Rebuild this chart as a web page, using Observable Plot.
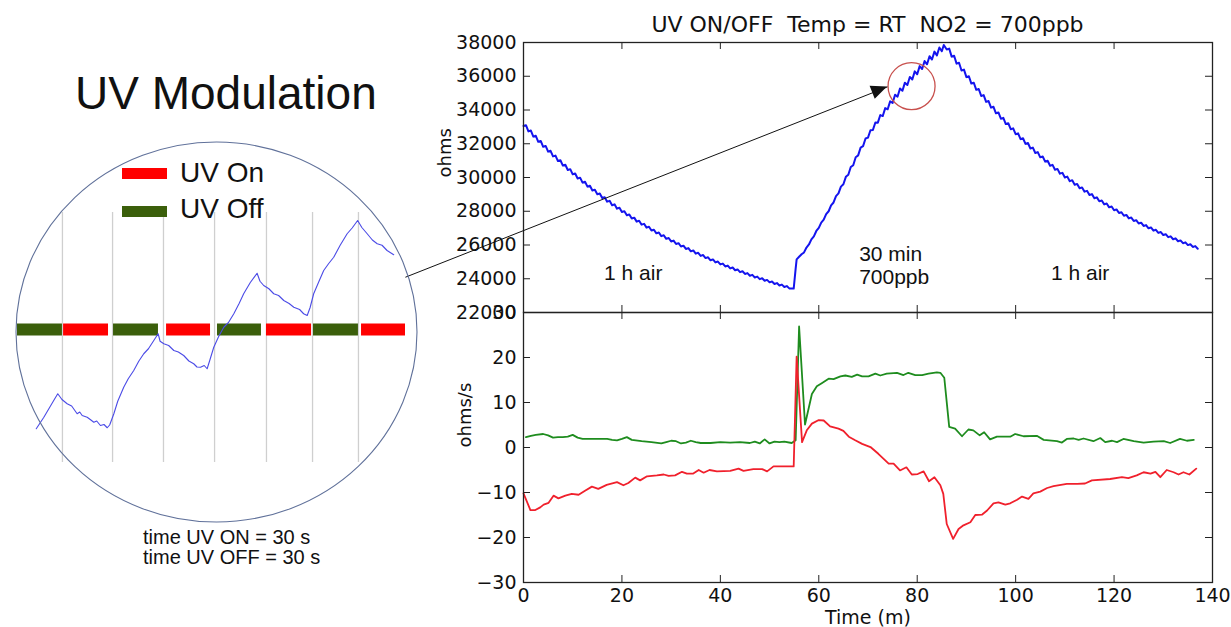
<!DOCTYPE html>
<html><head><meta charset="utf-8">
<script src="https://cdn.jsdelivr.net/npm/d3@7"></script>
<script src="https://cdn.jsdelivr.net/npm/@observablehq/plot@0.6"></script>
<style>
html,body{margin:0;padding:0;background:#fff;}
#fig{position:relative;width:1231px;height:627px;overflow:hidden;background:#fff;}
.t{position:absolute;white-space:pre;color:#111;font-family:'Liberation Sans',Arial,sans-serif;}
.sw{position:absolute;}
</style></head><body><div id="fig"></div>
<script>
// ---------- data ----------
const chartTitle = "UV ON/OFF  Temp = RT  NO2 = 700ppb";
const xTicks = [0, 20, 40, 60, 80, 100, 120, 140];
const topYTicks = [22000, 24000, 26000, 28000, 30000, 32000, 34000, 36000, 38000];
const bottomYTicks = [-30, -20, -10, 0, 10, 20, 30];

// resistance (ohms) vs time (min): first hour in air
const resistanceAir1 = [
[0,33050],[0.5,33100],[1,32731],[1.5,32781],[2,32420],[2.5,32470],[3,32116],[3.5,32166],[4,31820],[4.5,31870],
[5,31531],[5.5,31581],[6,31249],[6.5,31299],[7,30974],[7.5,31024],[8,30706],[8.5,30756],[9,30444],[9.5,30494],
[10,30189],[10.5,30239],[11,29940],[11.5,29990],[12,29697],[12.5,29747],[13,29460],[13.5,29510],[14,29229],[14.5,29279],
[15,29003],[15.5,29053],[16,28783],[16.5,28833],[17,28568],[17.5,28618],[18,28359],[18.5,28409],[19,28155],[19.5,28205],
[20,27955],[20.5,28005],[21,27761],[21.5,27811],[22,27571],[22.5,27621],[23,27386],[23.5,27436],[24,27205],[24.5,27255],
[25,27029],[25.5,27079],[26,26857],[26.5,26907],[27,26690],[27.5,26740],[28,26526],[28.5,26576],[29,26366],[29.5,26416],
[30,26211],[30.5,26261],[31,26059],[31.5,26109],[32,25911],[32.5,25961],[33,25766],[33.5,25816],[34,25625],[34.5,25675],
[35,25488],[35.5,25538],[36,25354],[36.5,25404],[37,25223],[37.5,25273],[38,25095],[38.5,25145],[39,24970],[39.5,25020],
[40,24849],[40.5,24899],[41,24730],[41.5,24780],[42,24615],[42.5,24665],[43,24502],[43.5,24552],[44,24392],[44.5,24442],
[45,24285],[45.5,24335],[46,24180],[46.5,24230],[47,24078],[47.5,24128],[48,23978],[48.5,24028],[49,23881],[49.5,23931],
[50,23786],[50.5,23836],[51,23693],[51.5,23743],[52,23603],[52.5,23653],[53,23515],[53.5,23565],[54,23429],[54.9,23420]
];
// 30 min of 700 ppb NO2
const resistanceNO2 = [
[55.3,24600],[55.5,25150],[56,25300],[56.5,25450],[57,25560],[57.5,25850],[58,26030],[58.5,26330],[59,26510],
[59.5,26830],[60,27010],[60.5,27330],[61,27500],[61.5,27830],[62,28000],[62.5,28350],[63,28520],[63.5,28900],
[64,29060],[64.5,29460],[65,29600],[65.5,30040],[66,30160],[66.5,30620],[67,30730],[67.5,31200],[68,31310],
[68.5,31770],[69,31860],[69.5,32310],[70,32360],[70.5,32800],[71,32820],[71.5,33260],[72,33250],[72.5,33700],
[73,33640],[73.5,34110],[74,34040],[74.5,34510],[75,34420],[75.5,34900],[76,34790],[76.5,35270],[77,35140],
[77.5,35620],[78,35480],[78.5,35960],[79,35810],[79.5,36290],[80,36120],[80.5,36600],[81,36430],[81.5,36900],
[82,36710],[82.5,37190],[83,36990],[83.5,37460],[84,37240],[84.5,37700],[85,37480],[85.4,37850]
];
// second hour in air
const resistanceAir2 = [
[86,37588],[86.5,37638],[87,37161],[87.5,37211],[88,36746],[88.5,36796],[89,36342],[89.5,36392],[90,35949],[90.5,35999],
[91,35567],[91.5,35617],[92,35195],[92.5,35245],[93,34833],[93.5,34883],[94,34481],[94.5,34531],[95,34139],[95.5,34189],
[96,33806],[96.5,33856],[97,33483],[97.5,33533],[98,33168],[98.5,33218],[99,32862],[99.5,32912],[100,32564],[100.5,32614],
[101,32275],[101.5,32325],[102,31993],[102.5,32043],[103,31719],[103.5,31769],[104,31453],[104.5,31503],[105,31194],[105.5,31244],
[106,30942],[106.5,30992],[107,30697],[107.5,30747],[108,30459],[108.5,30509],[109,30227],[109.5,30277],[110,30002],[110.5,30052],
[111,29783],[111.5,29833],[112,29570],[112.5,29620],[113,29362],[113.5,29412],[114,29160],[114.5,29210],[115,28964],[115.5,29014],
[116,28773],[116.5,28823],[117,28587],[117.5,28637],[118,28407],[118.5,28457],[119,28231],[119.5,28281],[120,28060],[120.5,28110],
[121,27894],[121.5,27944],[122,27733],[122.5,27783],[123,27576],[123.5,27626],[124,27423],[124.5,27473],[125,27274],[125.5,27324],
[126,27130],[126.5,27180],[127,26989],[127.5,27039],[128,26852],[128.5,26902],[129,26719],[129.5,26769],[130,26590],[130.5,26640],
[131,26464],[131.5,26514],[132,26342],[132.5,26392],[133,26223],[133.5,26273],[134,26107],[134.5,26157],[135,25995],[135.5,26045],
[136,25885],[136.5,25935],[137,25779]
];

// derivative (ohms/s), UV off phase (green)
const rateOff = [
[0.5,2.3],[1.5,2.6],[2.5,2.8],[4,3.0],[5,2.7],[6,2.2],[7,2.3],[8,2.3],[9,2.4],[10,2.8],[11,2.2],[12,1.9],
[14,1.9],[16,1.9],[17,1.9],[18,1.7],[19,1.6],[20,1.9],[21,2.3],[22,1.7],[24,1.4],[26,1.2],[28,0.9],[29,1.2],
[30,1.5],[31,1.4],[32,0.9],[33,1.1],[34,1.5],[35,1.2],[36,1.0],[38,1.0],[40,1.2],[42,1.1],[44,1.2],[46,1.0],
[47,1.3],[48,0.9],[49,1.8],[50,0.9],[51,1.3],[52,1.2],[53,1.3],[54.5,1.0],[55.3,1.6],[56.0,26.9],[57.2,5.1],
[58.6,11.9],[59.6,13.6],[60.6,14.3],[62.0,15.3],[63.0,15.2],[64.4,15.8],[65.4,16.0],[66.7,15.7],[67.8,16.2],
[68.8,15.8],[70.1,15.8],[71.5,16.4],[72.5,16.0],[73.8,16.4],[75.9,16.6],[77.2,16.1],[78.2,16.6],[79.6,16.1],
[81.0,16.1],[82.3,16.4],[84.0,16.7],[84.7,16.6],[85.5,15.5],[86.5,4.6],[87.7,4.2],[89.1,2.5],[90.4,4.0],
[91.4,3.8],[92.7,2.7],[93.6,3.4],[94.8,1.8],[96.2,2.4],[98.9,2.4],[99.9,3.0],[101.6,2.5],[104.3,2.6],[105.7,1.7],
[108.4,1.4],[109.4,1.1],[110.4,1.9],[111.8,2.0],[112.8,1.7],[113.8,2.0],[115.8,1.4],[117.2,2.1],[118.2,1.2],
[119.6,1.5],[120.6,1.2],[121.9,1.9],[124.0,1.4],[126.0,1.1],[128.0,1.3],[130.1,1.4],[131.4,1.0],[133.4,1.9],
[134.8,1.5],[136.2,1.7]
];

// derivative (ohms/s), UV on phase (red)
const rateOn = [
[0,-10.2],[1.4,-13.9],[2.4,-13.9],[3.4,-13.3],[4.1,-12.7],[5.1,-12.3],[6.1,-10.7],[7.1,-11.3],[8.5,-10.7],
[9.8,-10.3],[11.2,-10.5],[12.5,-9.6],[13.9,-8.7],[15.2,-9.2],[16.9,-8.3],[19.0,-7.7],[20.3,-8.4],[21.3,-7.9],
[22.7,-6.7],[23.7,-7.3],[25.1,-6.4],[27.1,-6.2],[28.5,-6.0],[29.5,-6.3],[30.8,-6.2],[32.2,-5.4],[33.2,-5.8],
[34.5,-5.8],[35.6,-5.0],[36.6,-5.6],[37.8,-5.0],[39.3,-5.3],[42.0,-5.2],[43.7,-4.7],[44.7,-5.2],[46.7,-4.8],
[48.5,-4.8],[49.5,-5.3],[50.8,-4.2],[54.9,-4.2],[55.5,20.2],[56.6,1.2],[57.6,3.9],[58.6,5.3],[60.0,6.1],
[61.0,6.0],[62.3,4.7],[64.0,4.2],[65.0,3.7],[66.1,2.4],[67.4,1.6],[68.8,0.8],[70.5,0.1],[72.1,-1.4],[74.2,-3.6],
[75.2,-3.6],[76.5,-5.1],[77.8,-4.4],[78.9,-6.0],[80.1,-5.9],[81.3,-5.3],[82.4,-7.5],[83.5,-6.6],[84.7,-8.4],
[85.3,-10.3],[86.0,-17.0],[87.3,-20.3],[88.4,-18.1],[89.4,-17.3],[90.8,-16.6],[91.8,-15.0],[93.2,-14.9],
[94.2,-14.0],[95.5,-12.4],[96.5,-12.2],[97.9,-12.7],[98.9,-12.4],[100.3,-11.6],[101.3,-10.9],[102.6,-11.4],
[103.6,-10.2],[105.0,-9.8],[106.4,-9.0],[107.7,-8.6],[110.4,-8.1],[112.5,-8.1],[114.1,-8.0],[115.5,-7.3],
[119.2,-7.0],[121.6,-6.6],[122.9,-6.8],[124.6,-6.2],[126.0,-5.5],[127.4,-5.8],[128.4,-5.4],[129.4,-6.6],
[130.7,-5.0],[132.1,-5.5],[133.1,-6.0],[134.1,-5.5],[135.3,-6.0],[136.7,-4.7]
];

// annotations on the resistance panel [time, ohms, text]
const topNotes = [[22.3, 24330, "1 h air"], [113.1, 24330, "1 h air"]];
const midNote = [68.2, 24830, "30 min\n700ppb"];
const zoomSpot = [78.85, 35410];          // red circle
const arrowFrom = [-24.0, 24090];          // arrow from the lens
const arrowTo = [73.97, 35370];

// inset (UV modulation close-up): time in s, relative resistance
const uvPhases = [
 {start: 0, end: 27.8, uv: "off"}, {start: 28.5, end: 56.3, uv: "on"},
 {start: 59.4, end: 87.2, uv: "off"}, {start: 92.2, end: 119.4, uv: "on"},
 {start: 123.7, end: 150.9, uv: "off"}, {start: 154.0, end: 181.9, uv: "on"},
 {start: 183.1, end: 210.9, uv: "off"}, {start: 212.8, end: 240, uv: "on"}
];
const phaseBarLevel = 53.2;
const insetGrid = [27.8, 58.8, 90.3, 121.9, 154.0, 182.5, 210.9];
const lensCenter = [123.4, 52];
const insetTrace = [[11.6,13.5],[16.3,18.1],[22.4,24.8],[24.9,27.5],[27.5,25.2],[30.7,23.5],[33.5,22.6],[36.9,19.5],
[38.5,20.2],[40.0,18.8],[43.1,18.1],[45.0,17.2],[47.2,16.1],[49.0,16.6],[51.3,14.8],[53.5,15.2],[55.5,13.9],
[57.0,15.0],[59.6,19.5],[62.0,24.5],[65.7,30.1],[68.5,33.5],[71.9,36.8],[75.0,40.5],[78.1,43.5],[81.0,45.5],
[84.3,48.8],[87.0,51.5],[88.2,48.5],[90.5,47.5],[93.5,46.8],[96.7,44.8],[99.5,44.2],[102.8,42.8],[106.0,40.6],
[109.0,39.5],[111.0,38.2],[113.2,38.1],[115.5,38.8],[117.3,37.5],[119.0,41.0],[121.4,46.1],[124.5,50.5],
[127.6,54.1],[130.5,56.0],[133.8,59.5],[137.0,63.5],[139.9,67.5],[144.0,72.0],[148.2,75.7],[150.0,72.5],
[152.3,70.8],[155.5,69.5],[158.5,67.5],[161.5,66.8],[164.7,64.8],[168.0,63.6],[170.9,62.1],[174.5,61.2],
[177.0,59.5],[179.2,58.8],[181.0,62.0],[183.2,67.5],[186.5,72.5],[189.4,76.8],[192.5,79.6],[195.6,82.1],
[199.5,86.8],[203.9,91.5],[207.0,93.8],[210.4,96.8],[213.0,94.0],[216.3,91.5],[219.5,89.0],[222.5,87.5],
[225.5,86.9],[228.6,84.8],[232.7,83.1]];

const insetTitle = "UV Modulation";
const legendItems = [{label: "UV On", color: "#ff0000"}, {label: "UV Off", color: "#3b5f0b"}];
const insetFootnote = "time UV ON = 30 s\ntime UV OFF = 30 s";

// ---------- drawing ----------
const resistance = [...resistanceAir1, ...resistanceNO2, ...resistanceAir2];
const fig = document.getElementById("fig");
const W = 1231, ML = 523, MR = 19;
const innerW = W - ML - MR;
const baseStyle = "position:absolute;left:0;background:transparent;overflow:visible;font-family:'DejaVu Sans';font-size:19px;color:#111;";
const tickLen = 7;

function inwardTicks(ih) {
  return [
    Plot.ruleX(xTicks, {x: d => d, insetTop: ih - tickLen, stroke: "#222"}),
    Plot.ruleX(xTicks, {x: d => d, insetBottom: ih - tickLen, stroke: "#222"})
  ];
}
function yInward(ticks) {
  return [
    Plot.ruleY(ticks, {y: d => d, insetRight: innerW - tickLen, stroke: "#222"}),
    Plot.ruleY(ticks, {y: d => d, insetLeft: innerW - tickLen, stroke: "#222"})
  ];
}

const arrowHead = (index, scales) => {
  const sx = scales.x, sy = scales.y;
  const x1 = sx(arrowFrom[0]), y1 = sy(arrowFrom[1]), x2 = sx(arrowTo[0]), y2 = sy(arrowTo[1]);
  const a = Math.atan2(y2 - y1, x2 - x1), L = 16, hw = 7;
  const bx = x2 - L * Math.cos(a), by = y2 - L * Math.sin(a);
  const px = -Math.sin(a) * hw, py = Math.cos(a) * hw;
  return d3.create("svg:path")
    .attr("d", `M${x2},${y2}L${bx + px},${by + py}L${bx - px},${by - py}Z`)
    .attr("fill", "#111").node();
};

const topH = 312, topMT = 42;
const topPlot = Plot.plot({
  width: W, height: topH, marginLeft: ML, marginRight: MR, marginTop: topMT, marginBottom: 0,
  style: baseStyle + "top:0;",
  x: {domain: [0, 140], axis: null},
  y: {domain: [22000, 38000], ticks: topYTicks, tickSize: 0, tickPadding: 7, tickFormat: d => String(d), label: null},
  marks: [
    ...inwardTicks(topH - topMT),
    ...yInward(topYTicks),
    Plot.line(resistance, {x: d => d[0], y: d => d[1], stroke: "#1414ee", strokeWidth: 2}),
    Plot.frame({stroke: "#222", strokeWidth: 1.3}),
    Plot.text(topNotes, {x: d => d[0], y: d => d[1], text: d => d[2], fontFamily: "Liberation Sans", fontSize: 21, fill: "#111"}),
    Plot.text([midNote], {x: d => d[0], y: d => d[1], text: d => d[2], textAnchor: "start", lineHeight: 1.12, fontFamily: "Liberation Sans", fontSize: 21, fill: "#111"}),
    Plot.dot([zoomSpot], {x: d => d[0], y: d => d[1], r: 23.5, stroke: "#c8504d", strokeWidth: 1.3, fill: "none"}),
    Plot.link([[arrowFrom, arrowTo]], {x1: d => d[0][0], y1: d => d[0][1], x2: d => d[1][0], y2: d => d[1][1], stroke: "#111", strokeWidth: 1}),
    arrowHead,
    Plot.text(["ohms"], {frameAnchor: "left", text: d => d, rotate: -90, dx: -78, fontSize: 18, fill: "#111"})
  ]
});
fig.appendChild(topPlot);

const botH = 315, botMB = 45;
const botPlot = Plot.plot({
  width: W, height: botH, marginLeft: ML, marginRight: MR, marginTop: 0, marginBottom: botMB,
  style: baseStyle + "top:312px;",
  x: {domain: [0, 140], ticks: xTicks, tickSize: 0, tickPadding: 6, label: null},
  y: {domain: [-30, 30], ticks: bottomYTicks, tickSize: 0, tickPadding: 7, label: null},
  marks: [
    ...inwardTicks(botH - botMB),
    ...yInward(bottomYTicks),
    Plot.line(rateOff, {x: d => d[0], y: d => d[1], stroke: "#1e8c1e", strokeWidth: 1.8}),
    Plot.line(rateOn, {x: d => d[0], y: d => d[1], stroke: "#f0202c", strokeWidth: 1.8}),
    Plot.frame({stroke: "#222", strokeWidth: 1.3}),
    Plot.text(["ohms/s"], {frameAnchor: "left", text: d => d, rotate: -90, dx: -58, fontSize: 18, fill: "#111"}),
    Plot.text(["Time (m)"], {frameAnchor: "bottom", text: d => d, dy: 41, fontSize: 19, fill: "#111"})
  ]
});
fig.appendChild(botPlot);

const lens = (index, scales) => d3.create("svg:ellipse")
  .attr("cx", scales.x(lensCenter[0])).attr("cy", scales.y(lensCenter[1]))
  .attr("rx", 200.5).attr("ry", 190)
  .attr("fill", "none").attr("stroke", "#60719a").attr("stroke-width", 1.1).node();

const insetPlot = Plot.plot({
  width: 430, height: 627, marginLeft: 17, marginRight: 25, marginTop: 212, marginBottom: 165,
  style: baseStyle + "top:0;",
  x: {domain: [0, 240], axis: null},
  y: {domain: [0, 100], axis: null},
  marks: [
    Plot.ruleX(insetGrid, {x: d => d, stroke: "#cfcfcf", strokeWidth: 1.3}),
    Plot.ruleY(uvPhases.filter(p => p.uv === "off"), {y: () => phaseBarLevel, x1: d => d.start, x2: d => d.end, stroke: legendItems[1].color, strokeWidth: 12}),
    Plot.ruleY(uvPhases.filter(p => p.uv === "on"), {y: () => phaseBarLevel, x1: d => d.start, x2: d => d.end, stroke: legendItems[0].color, strokeWidth: 12}),
    Plot.line(insetTrace, {x: d => d[0], y: d => d[1], stroke: "#4b4be6", strokeWidth: 1.1}),
    lens
  ]
});
fig.appendChild(insetPlot);

// ---------- html texts ----------
function addText(txt, css) {
  const d = document.createElement("div");
  d.className = "t"; d.textContent = txt;
  Object.assign(d.style, css);
  fig.appendChild(d);
}
addText(chartTitle, {left: ML + "px", width: innerW + "px", textAlign: "center", top: "11px", fontFamily: "'DejaVu Sans'", fontSize: "22px", lineHeight: "28px"});
addText(insetTitle, {left: "75px", top: "70px", fontSize: "46px", lineHeight: "46px"});
legendItems.forEach((it, i) => {
  const sw = document.createElement("div");
  sw.className = "sw";
  Object.assign(sw.style, {left: "122px", top: (168 + i * 38) + "px", width: "45px", height: "11px", background: it.color});
  fig.appendChild(sw);
  addText(it.label, {left: "180px", top: (159 + i * 36) + "px", fontSize: "28px", lineHeight: "28px"});
});
addText(insetFootnote, {left: "143px", top: "527px", fontSize: "20px", lineHeight: "20px"});
</script></body></html>
